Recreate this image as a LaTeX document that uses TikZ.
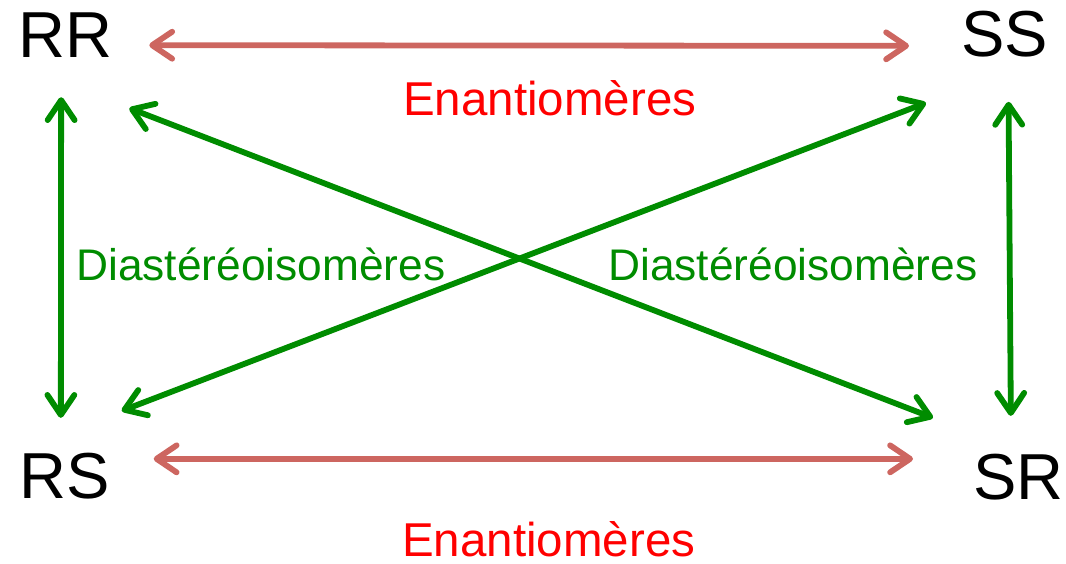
\documentclass[tikz,border=0pt]{standalone}
\usepackage{fontspec}
\setmainfont{Liberation Sans}
\usetikzlibrary{arrows.meta,calc}
\definecolor{arrred}{RGB}{205,102,96}
\definecolor{arrgreen}{RGB}{0,140,0}
\definecolor{txtgreen}{RGB}{0,140,0}
\definecolor{txtred}{RGB}{255,0,0}
\tikzset{
  iso/.style={anchor=base west, inner sep=0pt, font=\fontsize{65}{65}\selectfont, text=black},
  enlabel/.style={anchor=base west, inner sep=0pt, font=\fontsize{47.5}{47.5}\selectfont, text=txtred},
  dilabel/.style={anchor=base west, inner sep=0pt, font=\fontsize{44.3}{44.3}\selectfont, text=txtgreen},
  barb/.tip={Straight Barb[length=20pt, width=27pt, line cap=round, line join=round]},
  enarrow/.style={draw=arrred, line width=5.8pt, line cap=round, {barb}-{barb}},
  diarrow/.style={draw=arrgreen, line width=5.8pt, line cap=round, {barb}-{barb}}
}
\begin{document}
\begin{tikzpicture}[x=1pt,y=-1pt]
\useasboundingbox (0,0) rectangle (1066,563);
\node[iso] (RR) at (18,57) {RR};
\node[iso] (SS) at (961,56) {SS};
\node[iso] (RS) at (19,498) {RS};
\node[iso] (SR) at (973,499) {SR};
\node[enlabel] (en1) at (403,115) {Enantiomères};
\node[enlabel] (en2) at (402,556) {Enantiomères};
\node[dilabel] (di1) at (76,280) {Diastéréoisomères};
\node[dilabel] (di2) at (608,280) {Diastéréoisomères};
% enantiomer arrows
\draw[enarrow] ([shift={(37,-12)}]RR.south east) -- ([shift={(-52,-11)}]SS.south west);
\draw[enarrow] ([shift={(44,-40)}]RS.south east) -- ([shift={(-60,-41)}]SR.south west);
% diastereoisomer arrows
\draw[diarrow] ([shift={(-4,40)}]RR.south) -- ([shift={(-3.5,-81)}]RS.south);
\draw[diarrow] ([shift={(4,45)}]SS.south) -- ([shift={(-7.5,-84)}]SR.south);
\draw[diarrow] ([shift={(17,51)}]RR.south east) -- ([shift={(-40,-82)}]SR.south west);
\draw[diarrow] ([shift={(-35,46)}]SS.south west) -- ([shift={(12,-88)}]RS.south east);
\end{tikzpicture}
\end{document}
